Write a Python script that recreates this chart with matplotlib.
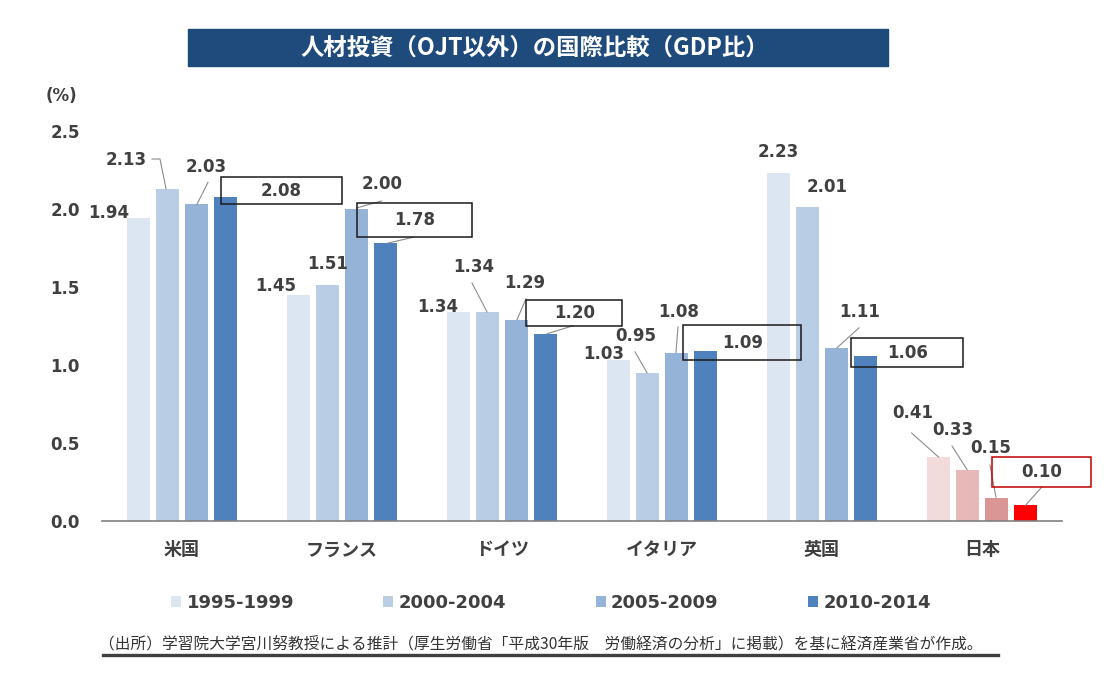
import matplotlib
matplotlib.use('Agg')
import matplotlib.pyplot as plt
import matplotlib.transforms as mtransforms
from matplotlib.patches import Rectangle
from matplotlib.lines import Line2D
import numpy as np

# ---- data ----
countries = ['米国', 'フランス', 'ドイツ', 'イタリア', '英国', '日本']
periods = ['1995-1999', '2000-2004', '2005-2009', '2010-2014']
v1995 = [1.94, 1.45, 1.34, 1.03, 2.23, 0.41]
v2000 = [2.13, 1.51, 1.34, 0.95, 2.01, 0.33]
v2005 = [2.03, 2.00, 1.29, 1.08, 1.11, 0.15]
v2010 = [2.08, 1.78, 1.20, 1.09, 1.06, 0.10]
series = [v1995, v2000, v2005, v2010]
yticks = [0.0, 0.5, 1.0, 1.5, 2.0, 2.5]

title = '人材投資（OJT以外）の国際比較（GDP比）'
note = '（出所）学習院大学宮川努教授による推計（厚生労働省「平成30年版\u3000労働経済の分析」に掲載）を基に経済産業省が作成。'

blue = ['#DCE6F2', '#B9CDE5', '#95B3D7', '#4F81BD']
red = ['#F2DCDB', '#E6B9B8', '#D99694', '#FF0000']

# label placement, pixel offsets from the top of each bar (dx, dy up)
label_pos = [
    [(-30, 5), (-41, 29), (10, 37), (56, 6)],
    [(-23, 9), (0, 21), (26, 25), (29, 23)],
    [(-21, 5), (-14, 45), (8, 37), (29, 21)],
    [(-15, 6), (-12, 37), (2, 41), (37, 8)],
    [(0, 21), (20, 20), (23, 36), (42, 3)],
    [(-26, 44), (-15, 40), (-6, 50), (16, 33)],
]
boxes = {(0, 3): (121, 27), (1, 3): (115, 34), (2, 3): (96, 26),
         (3, 3): (118, 35), (4, 3): (112, 29), (5, 3): (99, 30)}
leaders = {
    (0, 1): [(-15.5, 29.7), (-7.5, 29.7), (-1.5, 0)],
    (0, 2): [(11.5, 22), (0.5, 0)],
    (1, 2): [(25, 8), (0, 1)],
    (1, 3): [(27.5, 6), (1.5, 0)],
    (2, 1): [(-15.5, 29), (-0.5, 0)],
    (2, 2): [(9.5, 21), (0.5, 0)],
    (2, 3): [(27.5, 8), (1.5, 0)],
    (3, 1): [(-12.5, 21), (-0.5, 0)],
    (3, 2): [(1.5, 25.5), (-0.5, 0)],
    (4, 2): [(22.5, 20), (0.5, 0)],
    (5, 0): [(-27, 24), (0, 0)],
    (5, 1): [(-15.5, 23.5), (-0.5, 0)],
    (5, 2): [(-6.5, 32.5), (-0.5, 0.5)],
    (5, 3): [(16.5, 18.5), (0, 0)],
}

txt = '#404040'
num_font = 'DejaVu Sans'
jp_font = ['Noto Sans CJK JP', 'DejaVu Sans']

W, H = 1105, 683
fig = plt.figure(figsize=(W / 100, H / 100), dpi=100)
ax = fig.add_axes([102 / W, 1 - 521 / H, 960 / W, 390 / H])

x = np.arange(len(countries))
pitch, width = 0.181, 0.143
for j, vals in enumerate(series):
    cols = [blue[j]] * (len(countries) - 1) + [red[j]]
    ax.bar(x + (j - 1.5) * pitch, vals, width, color=cols, label=periods[j], zorder=2)

ax.set_xlim(-0.5, len(countries) - 0.5)
ax.set_ylim(0, 2.5)
ax.set_yticks(yticks)
ax.set_yticklabels([f'{t:.1f}' for t in yticks], fontsize=12, fontweight='bold',
                   color=txt, family=num_font)
ax.set_xticks(x)
ax.set_xticklabels(countries, fontsize=13, fontweight='bold', color=txt, family=jp_font)
ax.tick_params(axis='both', length=0)
ax.tick_params(axis='x', pad=14)
ax.tick_params(axis='y', pad=16)
for s in ['top', 'right', 'left']:
    ax.spines[s].set_visible(False)
ax.spines['bottom'].set_color('#808080')
ax.spines['bottom'].set_linewidth(1.2)


def anchor(xd, yd, dx=0, dy=0):
    return mtransforms.Affine2D().translate(dx, dy) + \
        mtransforms.ScaledTranslation(xd, yd, ax.transData)


for i in range(len(countries)):
    for j, vals in enumerate(series):
        xb = x[i] + (j - 1.5) * pitch
        v = vals[i]
        dx, dy = label_pos[i][j]
        ax.text(0, 0, f'{v:.2f}', transform=anchor(xb, v, dx, dy), ha='center',
                va='center', fontsize=12, fontweight='bold', color=txt,
                family=num_font, zorder=5)
        if (i, j) in boxes:
            bw, bh = boxes[(i, j)]
            ec = '#C00000' if i == len(countries) - 1 else '#1a1a1a'
            ax.add_artist(Rectangle((dx - bw / 2, dy - bh / 2), bw, bh, fill=False,
                                    ec=ec, lw=1.1, transform=anchor(xb, v),
                                    clip_on=False, zorder=4))
        if (i, j) in leaders:
            pts = leaders[(i, j)]
            ax.add_artist(Line2D([p[0] for p in pts], [p[1] for p in pts],
                                 color='#8c8c8c', lw=0.8, transform=anchor(xb, v),
                                 clip_on=False, zorder=3))

# legend
leg = ax.legend(loc='center', bbox_to_anchor=(551 / W, 1 - 603 / H),
                bbox_transform=fig.transFigure, ncol=4, frameon=False,
                handlelength=0.55, handleheight=0.55, handletextpad=0.3,
                columnspacing=4.95, prop={'family': num_font, 'weight': 'bold', 'size': 13})
for t in leg.get_texts():
    t.set_color(txt)

# title banner
fig.patches.append(Rectangle((188 / W, 1 - 66 / H), 700 / W, 37 / H,
                             transform=fig.transFigure, color='#1F4A7C', zorder=0))
fig.text(535 / W, 1 - 47.5 / H, title, ha='center', va='center', color='white',
         fontsize=16.8, fontweight='bold', family=jp_font)

fig.text(77 / W, 1 - 96 / H, '(%)', ha='right', va='center', fontsize=12,
         fontweight='bold', color=txt, family=num_font)

fig.text(99 / W, 1 - 645 / H, note, ha='left', va='center', fontsize=11.3,
         color='#333333', family=jp_font)
fig.add_artist(Line2D([103 / W, 998 / W], [1 - 655 / H, 1 - 655 / H],
                      transform=fig.transFigure, color='#404040', lw=2.4))

fig.savefig('out.png', dpi=100)
